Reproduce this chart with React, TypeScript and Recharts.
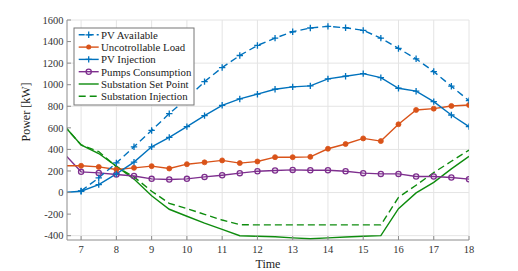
import React from 'react';
import { LineChart, Line, XAxis, YAxis, CartesianGrid, Label } from 'recharts';

const times = [6.5, 7, 7.5, 8, 8.5, 9, 9.5, 10, 10.5, 11, 11.5, 12, 12.5, 13, 13.5, 14, 14.5, 15, 15.5, 16, 16.5, 17, 17.5, 18];
const pvAvailable = [null, 15, 136, 275, 424, 576, 732, 871, 1029, 1159, 1271, 1364, 1432, 1491, 1526, 1541, 1528, 1504, 1432, 1336, 1240, 1122, 986, 852];
const uncontrollableLoad = [248, 248, 238, 214, 229, 245, 223, 263, 280, 298, 273, 288, 328, 328, 331, 406, 450, 502, 477, 633, 766, 778, 803, 812];
const pvInjection = [0, 12, 74, 173, 282, 424, 512, 611, 713, 809, 868, 912, 958, 980, 989, 1054, 1079, 1103, 1066, 967, 940, 843, 719, 611];
const pumpsConsumption = [366, 192, 182, 167, 154, 127, 121, 127, 145, 161, 180, 198, 205, 210, 207, 207, 198, 180, 173, 173, 149, 149, 140, 124];
const substationSetPoint = [627, 442, 362, 245, 125, -30, -155, -220, -283, -341, -400, -405, -410, -420, -428, -420, -412, -405, -400, -149, -3, 95, 220, 335];
const substationInjection = [627, 442, 380, 238, 145, 12, -100, -149, -202, -255, -298, -300, -300, -300, -300, -300, -300, -300, -300, -45, 68, 185, 290, 394];

const xTicks = [7, 8, 9, 10, 11, 12, 13, 14, 15, 16, 17, 18];
const yTicks = [-400, -200, 0, 200, 400, 600, 800, 1000, 1200, 1400, 1600];

const seriesNames = [
  'PV Available',
  'Uncotrollable Load',
  'PV Injection',
  'Pumps Consumption',
  'Substation Set Point',
  'Substation Injection',
];

const data = times.map((t, i) => ({
  t,
  pvAvailable: pvAvailable[i],
  uncontrollableLoad: uncontrollableLoad[i],
  pvInjection: pvInjection[i],
  pumpsConsumption: pumpsConsumption[i],
  substationSetPoint: substationSetPoint[i],
  substationInjection: substationInjection[i],
}));

const BLUE = '#0072BD';
const ORANGE = '#D95319';
const PURPLE = '#7E2F8E';
const GREEN = '#0E8C0E';
const FONT = '"Liberation Serif", "Times New Roman", "DejaVu Serif", serif';
const AXIS = '#8c8c8c';
const TEXT = '#333333';
const LW = 1.4;

const plus = (cx: number, cy: number, color: string, key?: any) => (
  <path
    key={key}
    d={`M${cx - 3.2},${cy}H${cx + 3.2}M${cx},${cy - 3.2}V${cy + 3.2}`}
    stroke={color}
    strokeWidth={1.3}
    strokeDasharray="none"
    fill="none"
  />
);

const PlusDot = (props: any) => {
  const { cx, cy, index, value } = props;
  if (cx == null || cy == null || value == null) return <g key={`p${index}`} />;
  return plus(cx, cy, BLUE, `p${index}`);
};

const FilledDot = (props: any) => {
  const { cx, cy, index } = props;
  if (cx == null || cy == null) return <g key={`f${index}`} />;
  return <circle key={`f${index}`} cx={cx} cy={cy} r={2.5} fill={ORANGE} stroke={ORANGE} strokeWidth={0.8} />;
};

const OpenDot = (props: any) => {
  const { cx, cy, index } = props;
  if (cx == null || cy == null) return <g key={`o${index}`} />;
  return <circle key={`o${index}`} cx={cx} cy={cy} r={2.6} fill="none" stroke={PURPLE} strokeWidth={1.3} />;
};

const LegendBox = () => {
  const rowH = 12.3;
  const y0 = 6.8;
  const items = [
    { color: BLUE, dash: '6 3', marker: 'plus' },
    { color: ORANGE, dash: undefined, marker: 'filled' },
    { color: BLUE, dash: undefined, marker: 'plus' },
    { color: PURPLE, dash: undefined, marker: 'open' },
    { color: GREEN, dash: undefined, marker: 'none' },
    { color: GREEN, dash: '7 4', marker: 'none' },
  ];
  return (
    <svg
      width={122}
      height={79}
      style={{ position: 'absolute', left: 73, top: 27 }}
    >
      <rect x={1} y={1} width={120} height={77} fill="#ffffff" stroke="#777" strokeWidth={1} />
      {items.map((it, i) => {
        const cy = 1 + y0 + i * rowH;
        return (
          <g key={i}>
            <line x1={5.7} x2={25.7} y1={cy} y2={cy} stroke={it.color} strokeWidth={LW} strokeDasharray={it.dash} />
            {it.marker === 'plus' && plus(15.7, cy, it.color)}
            {it.marker === 'filled' && <circle cx={15.7} cy={cy} r={2.5} fill={it.color} />}
            {it.marker === 'open' && <circle cx={15.7} cy={cy} r={2.6} fill="none" stroke={it.color} strokeWidth={1.3} />}
            <text x={28} y={cy + 3.8} fontFamily={FONT} style={{ fontFamily: FONT }} fontSize={10.8} fill="#222">
              {seriesNames[i]}
            </text>
          </g>
        );
      })}
    </svg>
  );
};

const tickStyle = { fontFamily: FONT, fontSize: 10.5, fill: TEXT, style: { fontFamily: FONT } };

export default function App() {
  return (
    <div style={{ position: 'absolute', left: 0, top: 0, width: 518, height: 271, background: '#fff', fontFamily: FONT }}>
      <LineChart
        width={518}
        height={271}
        data={data}
        margin={{ top: 20, right: 49, bottom: 0, left: 0 }}
        style={{ fontFamily: FONT }}
      >
        <CartesianGrid xAxisId="b" yAxisId="l" stroke="#e4e4e4" strokeWidth={1} verticalValues={xTicks} horizontalValues={yTicks} />
        <XAxis
          xAxisId="b"
          dataKey="t"
          type="number"
          domain={[6.6, 18]}
          ticks={xTicks}
          allowDataOverflow
          height={31}
          tickSize={-4}
          tickMargin={10}
          axisLine={{ stroke: AXIS, strokeWidth: 1 }}
          tickLine={{ stroke: AXIS }}
          tick={tickStyle}
        >
          <Label
            content={() => (
              <text x={268} y={268} textAnchor="middle" fontFamily={FONT} style={{ fontFamily: FONT }} fontSize={12} fill="#222">
                Time
              </text>
            )}
          />
        </XAxis>
        <XAxis
          xAxisId="t"
          orientation="top"
          dataKey="t"
          type="number"
          domain={[6.6, 18]}
          ticks={xTicks}
          allowDataOverflow
          height={0}
          tickSize={-4}
          tick={false}
          axisLine={{ stroke: AXIS, strokeWidth: 1 }}
          tickLine={{ stroke: AXIS }}
        />
        <YAxis
          yAxisId="l"
          type="number"
          domain={[-440, 1600]}
          ticks={yTicks}
          allowDataOverflow
          width={67}
          tickSize={-4}
          tickMargin={7.5}
          axisLine={{ stroke: AXIS, strokeWidth: 1 }}
          tickLine={{ stroke: AXIS }}
          tick={tickStyle}
        >
          <Label
            content={() => (
              <text
                x={30}
                y={112}
                transform="rotate(-90 30 112)"
                textAnchor="middle"
                fontFamily={FONT}
                style={{ fontFamily: FONT }}
                fontSize={12}
                fill="#222"
              >
                Power [kW]
              </text>
            )}
          />
        </YAxis>
        <YAxis
          yAxisId="r"
          orientation="right"
          type="number"
          domain={[-440, 1600]}
          ticks={yTicks}
          allowDataOverflow
          width={0}
          tickSize={-4}
          tick={false}
          axisLine={{ stroke: AXIS, strokeWidth: 1 }}
          tickLine={{ stroke: AXIS }}
        />
        <Line xAxisId="b" yAxisId="l" type="linear" dataKey="substationSetPoint" name={seriesNames[4]} stroke={GREEN} strokeWidth={LW} dot={false} isAnimationActive={false} />
        <Line xAxisId="b" yAxisId="l" type="linear" dataKey="substationInjection" name={seriesNames[5]} stroke={GREEN} strokeWidth={LW} strokeDasharray="7 4" dot={false} isAnimationActive={false} />
        <Line xAxisId="b" yAxisId="l" type="linear" dataKey="pumpsConsumption" name={seriesNames[3]} stroke={PURPLE} strokeWidth={LW} dot={OpenDot} isAnimationActive={false} />
        <Line xAxisId="b" yAxisId="l" type="linear" dataKey="uncontrollableLoad" name={seriesNames[1]} stroke={ORANGE} strokeWidth={LW} dot={FilledDot} isAnimationActive={false} />
        <Line xAxisId="b" yAxisId="l" type="linear" dataKey="pvInjection" name={seriesNames[2]} stroke={BLUE} strokeWidth={LW} dot={PlusDot} isAnimationActive={false} />
        <Line xAxisId="b" yAxisId="l" type="linear" dataKey="pvAvailable" name={seriesNames[0]} stroke={BLUE} strokeWidth={LW} strokeDasharray="7 4" dot={PlusDot} connectNulls={false} isAnimationActive={false} />
      </LineChart>
      <LegendBox />
    </div>
  );
}
